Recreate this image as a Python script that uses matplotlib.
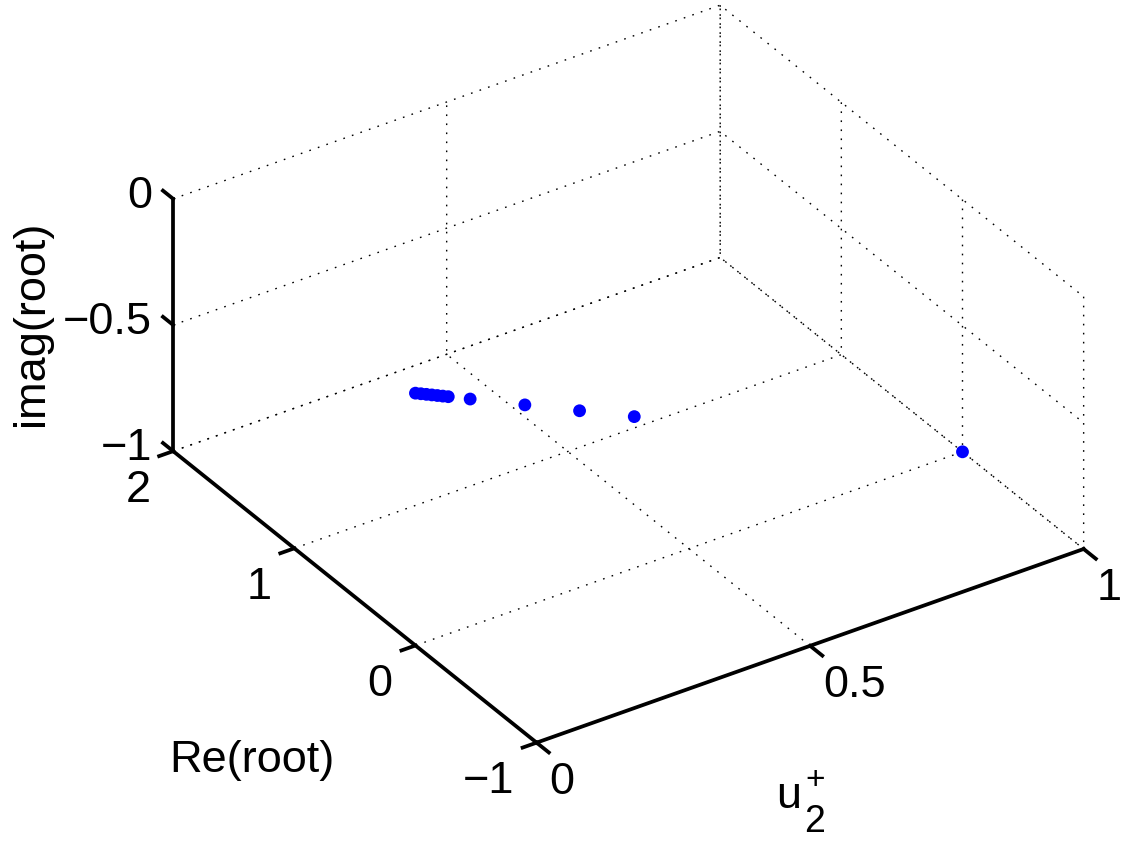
import matplotlib
matplotlib.use("Agg")
import matplotlib.pyplot as plt
import numpy as np

plt.rcParams['font.family'] = ['Liberation Sans', 'DejaVu Sans']

# roots: u2+ vs real / imaginary part
u2 = [0.0, 0.01, 0.02, 0.03, 0.04, 0.05, 0.06, 0.1, 0.2, 0.3, 0.4, 1.0]
re_root = [0, 0, 0, 0, 0, 0, 0, 0, 0, 0, 0, 0]
im_root = [0.0, -0.01, -0.02, -0.03, -0.04, -0.05, -0.06, -0.1, -0.2, -0.3, -0.4, -1.0]

xticks = [0, 0.5, 1]
xticklabels = ["0", "0.5", "1"]
yticks = [-1, 0, 1, 2]
yticklabels = ["\u22121", "0", "1", "2"]
zticks = [-1, -0.5, 0]
zticklabels = ["\u22121", "\u22120.5", "0"]

W, H = 1136, 842
FS = 32.5
fig = plt.figure(figsize=(W / 100, H / 100), dpi=100)
S = 947
cx, cy = 615.6, 386.7
ax = fig.add_axes([(cx - S / 2) / W, (H - cy - S / 2) / H, S / W, S / H],
                  projection='3d', proj_type='ortho')
ax.set_box_aspect((1, 1, 0.454))
ax.view_init(elev=32.2, azim=-123.6)

ax.scatter(u2, re_root, im_root, s=85, c='blue', depthshade=False, edgecolors='none')

ax.set_xlim(0, 1)
ax.set_ylim(-1, 2)
ax.set_zlim(-1, 0)
ax.set_xticks(xticks, xticklabels)
ax.set_yticks(yticks, yticklabels)
ax.set_zticks(zticks, zticklabels)

# z ticks point along the Re direction, like MATLAB
ax.zaxis._get_tickdir = lambda position: 1

for axis in (ax.xaxis, ax.yaxis, ax.zaxis):
    axis.set_pane_color((1, 1, 1, 0))
    axis.pane.set_edgecolor('none')
    axis.line.set_linewidth(2.7)
    axis.line.set_color('black')
    axis._axinfo['grid'].update(color='black', linestyle=(0, (1.2, 5.3)), linewidth=1.0)
    axis._axinfo['tick']['linewidth'] = {True: 2.7, False: 2.7}
    axis.set_tick_params(labelsize=FS, colors='black')

ax.xaxis._axinfo['tick'].update(inward_factor=0.42, outward_factor=0.0)
ax.yaxis._axinfo['tick'].update(inward_factor=0.32, outward_factor=0.0)
ax.zaxis._axinfo['tick'].update(inward_factor=0.0, outward_factor=0.35)

ax.xaxis.set_tick_params(pad=4.5)
ax.yaxis.set_tick_params(pad=6.8)
ax.zaxis.set_tick_params(pad=0.3)
for lab in ax.get_xticklabels():
    lab.set_ha('left')
    lab.set_va('top')
for lab in ax.get_yticklabels():
    lab.set_ha('right')
    lab.set_va('top')
for lab in ax.get_zticklabels():
    lab.set_ha('right')
    lab.set_va('center')

fig.text(32 / W, 1 - 323 / H, "imag(root)", rotation=90, fontsize=FS,
         ha='center', va='center')
fig.text(169 / W, 1 - 772 / H, "Re(root)", fontsize=FS, ha='left', va='baseline')
fig.text(776 / W, 1 - 808 / H, "u", fontsize=FS, ha='left', va='baseline')
fig.text(804 / W, 1 - 832 / H, "2", fontsize=27, ha='left', va='baseline')
fig.text(815 / W, 1 - 780 / H, "+", fontsize=24, ha='center', va='center')

fig.savefig("out.png", dpi=100)
